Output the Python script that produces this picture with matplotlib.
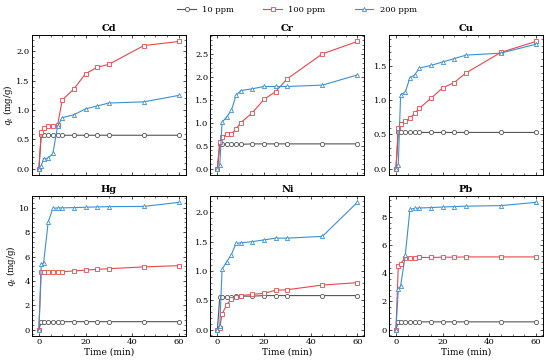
import numpy as np
import matplotlib.pyplot as plt
from matplotlib.ticker import AutoMinorLocator, MultipleLocator

plt.rcParams['font.family'] = 'DejaVu Serif'
plt.rcParams['mathtext.fontset'] = 'dejavuserif'

# sampling times (min)
time = [0, 1, 2, 4, 6, 8, 10, 15, 20, 25, 30, 45, 60]

metals = ["Cd", "Cr", "Cu", "Hg", "Ni", "Pb"]
labels = ["10 ppm", "100 ppm", "200 ppm"]
ystep = {"Cd": 0.5, "Cr": 0.5, "Cu": 0.5, "Hg": 2, "Ni": 0.5, "Pb": 2}

# q_t (mg/g) for 10, 100, 200 ppm
cd_10 = [0, 0.57, 0.57, 0.57, 0.57, 0.57, 0.57, 0.57, 0.57, 0.57, 0.57, 0.57, 0.57]
cd_100 = [0, 0.62, 0.69, 0.72, 0.73, 0.74, 1.17, 1.36, 1.62, 1.73, 1.78, 2.10, 2.17]
cd_200 = [0, 0.05, 0.17, 0.18, 0.26, 0.72, 0.87, 0.92, 1.02, 1.07, 1.12, 1.14, 1.25]

cr_10 = [0, 0.53, 0.53, 0.53, 0.53, 0.53, 0.53, 0.54, 0.54, 0.54, 0.54, 0.54, 0.54]
cr_100 = [0, 0.58, 0.68, 0.75, 0.75, 0.87, 1.00, 1.22, 1.51, 1.68, 1.96, 2.50, 2.77]
cr_200 = [0, 0.07, 1.01, 1.13, 1.27, 1.60, 1.70, 1.74, 1.79, 1.79, 1.79, 1.82, 2.04]

cu_10 = [0, 0.53, 0.53, 0.53, 0.53, 0.53, 0.53, 0.53, 0.53, 0.53, 0.53, 0.53, 0.53]
cu_100 = [0, 0.60, 0.66, 0.70, 0.74, 0.81, 0.88, 1.03, 1.18, 1.26, 1.40, 1.70, 1.86]
cu_200 = [0, 0.05, 1.08, 1.12, 1.33, 1.37, 1.47, 1.51, 1.56, 1.61, 1.66, 1.69, 1.82]

hg_10 = [0, 0.65, 0.65, 0.65, 0.65, 0.65, 0.65, 0.65, 0.65, 0.65, 0.65, 0.65, 0.65]
hg_100 = [0, 4.70, 4.70, 4.70, 4.75, 4.75, 4.75, 4.82, 4.88, 4.95, 5.00, 5.15, 5.25]
hg_200 = [0, 5.40, 5.45, 8.85, 9.95, 10.0, 10.0, 10.02, 10.05, 10.08, 10.10, 10.12, 10.45]

ni_10 = [0, 0.56, 0.56, 0.56, 0.56, 0.57, 0.57, 0.57, 0.58, 0.58, 0.58, 0.58, 0.58]
ni_100 = [0, 0.02, 0.27, 0.42, 0.53, 0.56, 0.58, 0.60, 0.62, 0.67, 0.68, 0.76, 0.80]
ni_200 = [0, 0.06, 1.03, 1.16, 1.28, 1.47, 1.48, 1.50, 1.53, 1.56, 1.56, 1.59, 2.17]

pb_10 = [0, 0.55, 0.55, 0.55, 0.55, 0.55, 0.55, 0.55, 0.55, 0.55, 0.55, 0.55, 0.55]
pb_100 = [0, 4.50, 4.70, 5.10, 5.10, 5.10, 5.13, 5.13, 5.15, 5.15, 5.17, 5.17, 5.17]
pb_200 = [0, 2.90, 3.10, 5.30, 8.55, 8.62, 8.65, 8.68, 8.72, 8.75, 8.78, 8.82, 9.05]

data = {
    "Cd": (cd_10, cd_100, cd_200),
    "Cr": (cr_10, cr_100, cr_200),
    "Cu": (cu_10, cu_100, cu_200),
    "Hg": (hg_10, hg_100, hg_200),
    "Ni": (ni_10, ni_100, ni_200),
    "Pb": (pb_10, pb_100, pb_200),
}

colors = ["#555555", "#e8474b", "#3b8fd4"]
markers = ["o", "s", "^"]

fig, axes = plt.subplots(2, 3, figsize=(5.5, 3.62), dpi=100, sharex=True)
fig.subplots_adjust(left=0.058, right=0.987, top=0.903, bottom=0.072,
                    wspace=0.16, hspace=0.15)

for ax, m in zip(axes.flat, metals):
    for ys, c, mk, lab in zip(data[m], colors, markers, labels):
        ax.plot(time, ys, color=c, marker=mk, markersize=3, markerfacecolor="white",
                markeredgewidth=0.6, linewidth=0.8, label=lab)
    ax.set_title(m, fontsize=7, fontweight="bold", pad=3)
    ax.set_xticks([0, 20, 40, 60])
    ax.yaxis.set_major_locator(MultipleLocator(ystep[m]))
    ax.xaxis.set_minor_locator(AutoMinorLocator(4))
    ax.yaxis.set_minor_locator(AutoMinorLocator(5))
    ax.tick_params(which="both", direction="in", top=True, right=True, labelsize=6, pad=1.5)
    ax.tick_params(which="major", length=2.5, width=0.5)
    ax.tick_params(which="minor", length=1.3, width=0.4)
    for s in ax.spines.values():
        s.set_linewidth(0.7)

for ax in axes[:, 0]:
    ax.set_ylabel("$q_t$ (mg/g)", fontsize=6.3, labelpad=1)
for ax in axes[1]:
    ax.set_xlabel("Time (min)", fontsize=6.5, labelpad=1)

handles, labs = axes[0, 0].get_legend_handles_labels()
fig.legend(handles, labs, loc="upper center", ncol=3, frameon=False, fontsize=6,
           bbox_to_anchor=(0.54, 1.005), columnspacing=3.5, handlelength=2.2)

fig.canvas.draw()
cr_labels = [t.get_text() for t in axes[0, 1].get_yticklabels() if t.get_text()]
assert "2.5" in cr_labels and "0.5" in cr_labels, cr_labels

plt.savefig("out.png", dpi=100)
